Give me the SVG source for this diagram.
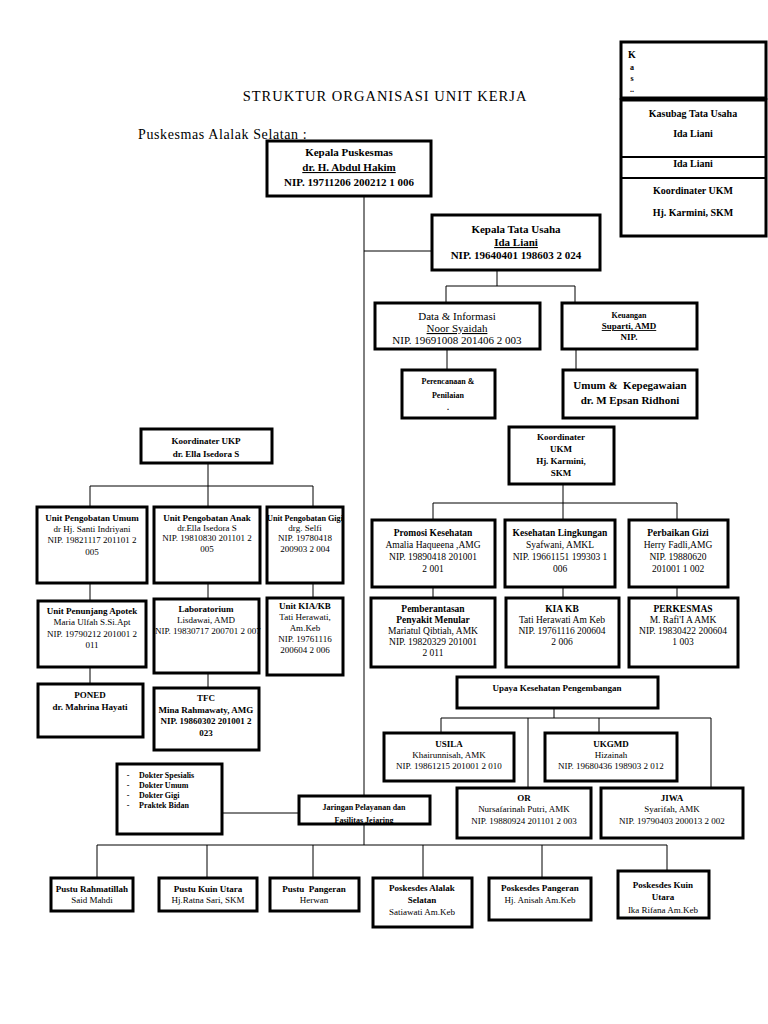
<svg xmlns="http://www.w3.org/2000/svg" width="768" height="1024" viewBox="0 0 768 1024">
<style>
.bx{fill:#fff;stroke:#000;stroke-width:3}
.ln{fill:none;stroke:#000;stroke-width:1}
text{font-family:"Liberation Serif","Times New Roman",serif;text-anchor:middle;font-size:9px;fill:#000}
.b{font-weight:bold}
.u{text-decoration:underline}
.l{text-anchor:start}
.m{font-size:11px}
.s{font-size:8px}
.r{font-size:9.5px}
.k{font-size:10px}
</style>
<defs>
<clipPath id="cj"><rect x="299" y="796" width="131" height="27"/></clipPath>
</defs>
<rect width="768" height="1024" fill="#fff"/>

<text x="385" y="101" style="font-size:14.5px;letter-spacing:1px">STRUKTUR ORGANISASI UNIT KERJA</text>
<text x="138" y="139" class="l" style="font-size:14px;letter-spacing:0.6px">Puskesmas Alalak Selatan :</text>

<g id="connectors">
<path class="ln" d="M364 196V796M364 824V845M364 251H432"/>
<path class="ln" d="M497 270V286M446 286H575M446 286V303M575 286V303"/>
<path class="ln" d="M447 349V370M576 349V370"/>
<path class="ln" d="M563 484V503M433 503H677M433 503V520M563 503V520M677 503V520"/>
<path class="ln" d="M208 463V486M90 486H313M90 486V507M208 486V507M313 486V507"/>
<path class="ln" d="M90 583V601M208 583V599M313 583V598"/>
<path class="ln" d="M433 587V598M563 587V598M677 587V598"/>
<path class="ln" d="M90 667V684M208 673V688"/>
<path class="ln" d="M554 708V718M441 718H711M441 718V733M528 718V788M599 718V733M711 718V788"/>
<path class="ln" d="M222 813H299"/>
<path class="ln" d="M97 845H667M97 845V878M207 845V878M313 845V878M423 845V878M542 845V878M667 845V871"/>
</g>

<g id="legend-box">
<rect class="bx" x="621" y="42" width="145" height="56"/>
<text x="632" y="58" class="b k">K</text>
<text x="632" y="70" class="b s">a</text>
<text x="632" y="81" class="b s">s</text>
<text x="632" y="92" class="b s">..</text>
<rect class="bx" x="621" y="100" width="145" height="136"/>
<path class="ln" d="M621 157H766M621 178H766" style="stroke-width:2"/>
<text x="693" y="117" class="b k">Kasubag Tata Usaha</text>
<text x="693" y="137" class="b k">Ida Liani</text>
<text x="693" y="167" class="b k">Ida Liani</text>
<text x="693" y="194" class="b k">Koordinater UKM</text>
<text x="693" y="216" class="b k">Hj. Karmini, SKM</text>
</g>

<g id="kepala-puskesmas">
<rect class="bx" x="267" y="141" width="164" height="55"/>
<text x="349" y="156" class="b m">Kepala Puskesmas</text>
<text x="349" y="171" class="b m u">dr. H. Abdul Hakim</text>
<text x="349" y="186" class="b m">NIP. 19711206 200212 1 006</text>
</g>

<g id="kepala-tu">
<rect class="bx" x="432" y="215" width="168" height="55"/>
<text x="516" y="233" class="b m">Kepala Tata Usaha</text>
<text x="516" y="246" class="b m u">Ida Liani</text>
<text x="516" y="259" class="b m">NIP. 19640401 198603 2 024</text>
</g>

<g id="data-informasi">
<rect class="bx" x="375" y="303" width="165" height="46"/>
<text x="457" y="320" class="m">Data &amp; Informasi</text>
<text x="457" y="332" class="m u">Noor Syaidah</text>
<text x="457" y="344" class="m">NIP. 19691008 201406 2 003</text>
</g>

<g id="keuangan">
<rect class="bx" x="562" y="303" width="135" height="46"/>
<text x="629" y="318" class="b s">Keuangan</text>
<text x="629" y="329" class="b u">Suparti, AMD</text>
<text x="629" y="340" class="b">NIP.</text>
</g>

<g id="perencanaan">
<rect class="bx" x="402" y="370" width="93" height="48"/>
<text x="448" y="384" class="b s">Perencanaan &amp;</text>
<text x="448" y="398" class="b s">Penilaian</text>
<text x="448" y="410" class="b s">.</text>
</g>

<g id="umum">
<rect class="bx" x="563" y="370" width="134" height="48"/>
<text x="630" y="389" class="b m" xml:space="preserve">Umum &amp;  Kepegawaian</text>
<text x="630" y="404" class="b m">dr. M Epsan Ridhoni</text>
</g>

<g id="koordinator-ukm">
<rect class="bx" x="509" y="427" width="105" height="57"/>
<text x="561" y="440" class="b">Koordinater</text>
<text x="561" y="452" class="b">UKM</text>
<text x="561" y="464" class="b">Hj. Karmini,</text>
<text x="561" y="476" class="b">SKM</text>
</g>

<g id="koordinator-ukp">
<rect class="bx" x="141" y="429" width="131" height="34"/>
<text x="206" y="444" class="b">Koordinater UKP</text>
<text x="206" y="457" class="b">dr. Ella Isedora S</text>
</g>

<g id="pengobatan-umum">
<rect class="bx" x="37" y="507" width="110" height="76"/>
<text x="92" y="521" class="b">Unit Pengobatan Umum</text>
<text x="92" y="532">dr Hj. Santi Indriyani</text>
<text x="92" y="543">NIP. 19821117 201101 2</text>
<text x="92" y="555">005</text>
</g>
<g id="pengobatan-anak">
<rect class="bx" x="154" y="507" width="106" height="76"/>
<text x="207" y="521" class="b">Unit Pengobatan Anak</text>
<text x="207" y="531">dr.Ella Isedora S</text>
<text x="207" y="541">NIP. 19810830 201101 2</text>
<text x="207" y="552">005</text>
</g>
<g id="pengobatan-gigi">
<rect class="bx" x="267" y="507" width="76" height="76"/>
<text x="305" y="521" class="b" textLength="76" lengthAdjust="spacingAndGlyphs">Unit Pengobatan Gigi</text>
<text x="305" y="531">drg. Selfi</text>
<text x="305" y="541">NIP. 19780418</text>
<text x="305" y="552">200903 2 004</text>
</g>

<g id="promosi">
<rect class="bx" x="372" y="520" width="123" height="67"/>
<text x="433" y="536" class="b r">Promosi Kesehatan</text>
<text x="433" y="548" class="r">Amalia Haqueena ,AMG</text>
<text x="433" y="560" class="r">NIP. 19890418 201001</text>
<text x="433" y="572" class="r">2 001</text>
</g>
<g id="kesling">
<rect class="bx" x="505" y="520" width="110" height="67"/>
<text x="560" y="536" class="b r">Kesehatan Lingkungan</text>
<text x="560" y="548" class="r">Syafwani, AMKL</text>
<text x="560" y="560" class="r">NIP. 19661151 199303 1</text>
<text x="560" y="572" class="r">006</text>
</g>
<g id="gizi">
<rect class="bx" x="629" y="520" width="99" height="67"/>
<text x="678" y="536" class="b r">Perbaikan Gizi</text>
<text x="678" y="548" class="r">Herry Fadli,AMG</text>
<text x="678" y="560" class="r">NIP. 19880620</text>
<text x="678" y="572" class="r">201001 1 002</text>
</g>

<g id="apotek">
<rect class="bx" x="38" y="601" width="108" height="66"/>
<text x="92" y="614" class="b">Unit Penunjang Apotek</text>
<text x="92" y="625">Maria Ulfah S.Si.Apt</text>
<text x="92" y="637">NIP. 19790212 201001 2</text>
<text x="92" y="648">011</text>
</g>
<g id="laboratorium">
<rect class="bx" x="154" y="599" width="105" height="74"/>
<text x="206" y="612" class="b">Laboratorium</text>
<text x="206" y="623">Lisdawai, AMD</text>
<text x="208" y="634">NIP. 19830717 200701 2 007</text>
</g>
<g id="kia-kb-unit">
<rect class="bx" x="267" y="598" width="76" height="77"/>
<text x="305" y="609" class="b">Unit KIA/KB</text>
<text x="305" y="620">Tati Herawati,</text>
<text x="305" y="631">Am.Keb</text>
<text x="305" y="642">NIP. 19761116</text>
<text x="305" y="653">200604 2 006</text>
</g>

<g id="p2m">
<rect class="bx" x="371" y="598" width="124" height="69"/>
<text x="433" y="612" class="b r">Pemberantasan</text>
<text x="433" y="623" class="b r">Penyakit Menular</text>
<text x="433" y="634" class="r">Mariatul Qibtiah, AMK</text>
<text x="433" y="645" class="r">NIP. 19820329 201001</text>
<text x="433" y="656" class="r">2 011</text>
</g>
<g id="kia-kb">
<rect class="bx" x="506" y="598" width="113" height="69"/>
<text x="562" y="612" class="b r">KIA KB</text>
<text x="562" y="623" class="r">Tati Herawati Am Keb</text>
<text x="562" y="634" class="r">NIP. 19761116 200604</text>
<text x="562" y="645" class="r">2 006</text>
</g>
<g id="perkesmas">
<rect class="bx" x="629" y="598" width="109" height="69"/>
<text x="683" y="612" class="b r">PERKESMAS</text>
<text x="683" y="623" class="r">M. Rafi'I A AMK</text>
<text x="683" y="634" class="r">NIP. 19830422 200604</text>
<text x="683" y="645" class="r">1 003</text>
</g>

<g id="poned">
<rect class="bx" x="38" y="684" width="105" height="53"/>
<text x="90" y="698" class="b">PONED</text>
<text x="90" y="710" class="b">dr. Mahrina Hayati</text>
</g>
<g id="tfc">
<rect class="bx" x="154" y="688" width="105" height="62"/>
<text x="206" y="701" class="b">TFC</text>
<text x="206" y="713" class="b">Mina Rahmawaty, AMG</text>
<text x="206" y="724" class="b">NIP. 19860302 201001 2</text>
<text x="206" y="736" class="b">023</text>
</g>

<g id="upaya">
<rect class="bx" x="457" y="677" width="201" height="31"/>
<text x="557" y="691" class="b">Upaya Kesehatan Pengembangan</text>
</g>
<g id="usila">
<rect class="bx" x="384" y="733" width="130" height="48"/>
<text x="449" y="747" class="b">USILA</text>
<text x="449" y="758">Khairunnisah, AMK</text>
<text x="449" y="769">NIP. 19861215 201001 2 010</text>
</g>
<g id="ukgmd">
<rect class="bx" x="545" y="733" width="132" height="48"/>
<text x="611" y="747" class="b">UKGMD</text>
<text x="611" y="758">Hizainah</text>
<text x="611" y="769">NIP. 19680436 198903 2 012</text>
</g>
<g id="or">
<rect class="bx" x="457" y="788" width="134" height="50"/>
<text x="524" y="801" class="b">OR</text>
<text x="524" y="812">Nursafarinah Putri, AMK</text>
<text x="524" y="824">NIP. 19880924 201101 2 003</text>
</g>
<g id="jiwa">
<rect class="bx" x="601" y="788" width="142" height="50"/>
<text x="672" y="801" class="b">JIWA</text>
<text x="672" y="812">Syarifah, AMK</text>
<text x="672" y="824">NIP. 19790403 200013 2 002</text>
</g>

<g id="dokter">
<rect class="bx" x="117" y="764" width="105" height="70"/>
<text x="128" y="778" class="b s">-</text>
<text x="139" y="778" class="b s l">Dokter Spesialis</text>
<text x="128" y="788" class="b s">-</text>
<text x="139" y="788" class="b s l">Dokter Umum</text>
<text x="128" y="798" class="b s">-</text>
<text x="139" y="798" class="b s l">Dokter Gigi</text>
<text x="128" y="808" class="b s">-</text>
<text x="139" y="808" class="b s l">Praktek Bidan</text>
</g>
<g id="jaringan">
<rect class="bx" x="299" y="796" width="131" height="28"/>
<g clip-path="url(#cj)">
<text x="364" y="810" class="b s">Jaringan Pelayanan dan</text>
<text x="364" y="823" class="b s">Fasilitas Jejaring</text>
</g>
</g>

<g id="pustu-rahmatillah">
<rect class="bx" x="51" y="878" width="82" height="33"/>
<text x="92" y="892" class="b">Pustu Rahmatillah</text>
<text x="92" y="903">Said Mahdi</text>
</g>
<g id="pustu-kuin-utara">
<rect class="bx" x="159" y="878" width="98" height="33"/>
<text x="208" y="892" class="b">Pustu Kuin Utara</text>
<text x="208" y="903">Hj.Ratna Sari, SKM</text>
</g>
<g id="pustu-pangeran">
<rect class="bx" x="270" y="878" width="89" height="33"/>
<text x="314" y="892" class="b" xml:space="preserve">Pustu  Pangeran</text>
<text x="314" y="903">Herwan</text>
</g>
<g id="poskesdes-alalak">
<rect class="bx" x="373" y="878" width="99" height="49"/>
<text x="422" y="891" class="b">Poskesdes Alalak</text>
<text x="422" y="903" class="b">Selatan</text>
<text x="422" y="915">Satiawati Am.Keb</text>
</g>
<g id="poskesdes-pangeran">
<rect class="bx" x="489" y="878" width="102" height="42"/>
<text x="540" y="891" class="b">Poskesdes Pangeran</text>
<text x="540" y="903">Hj. Anisah Am.Keb</text>
</g>
<g id="poskesdes-kuin">
<rect class="bx" x="618" y="871" width="91" height="47"/>
<text x="663" y="888" class="b">Poskesdes Kuin</text>
<text x="663" y="900" class="b">Utara</text>
<text x="663" y="913">Ika Rifana Am.Keb</text>
</g>
</svg>
